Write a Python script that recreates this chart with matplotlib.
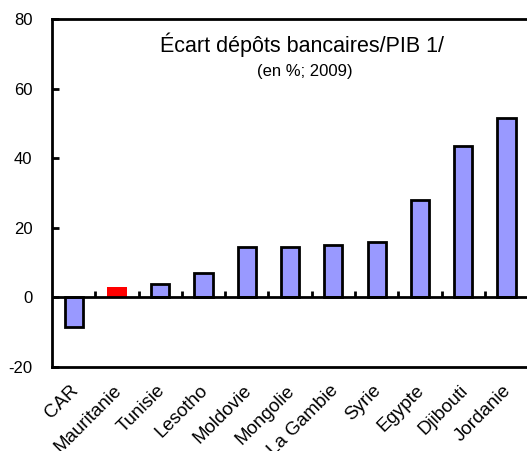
import matplotlib.pyplot as plt
import matplotlib.transforms as mtransforms
import numpy as np

plt.rcParams['font.family'] = ['Liberation Sans', 'DejaVu Sans']
plt.rcParams['axes.unicode_minus'] = False

countries = ['CAR', 'Mauritanie', 'Tunisie', 'Lesotho', 'Moldovie', 'Mongolie',
             'La Gambie', 'Syrie', 'Egypte', 'Djibouti', 'Jordanie']
values = [-8.5, 3.0, 4.0, 7.0, 14.5, 14.5, 15.0, 16.0, 28.0, 43.5, 51.5]
highlight = 'Mauritanie'

fig = plt.figure(figsize=(5.27, 4.51), dpi=100)
ax = fig.add_axes([0.0987, 0.186, 0.905, 0.772])

x = np.arange(len(countries))
for xi, name, v in zip(x, countries, values):
    if name == highlight:
        ax.bar(xi, v, width=0.48, color='#FF0000', edgecolor='none', zorder=3)
    else:
        ax.bar(xi, v, width=0.42, color='#9999FF', edgecolor='black',
               linewidth=2, zorder=3)

ax.set_xlim(-0.5, 10.52)
ax.set_ylim(-20, 80)
ax.set_yticks([-20, 0, 20, 40, 60, 80])
ax.tick_params(axis='y', direction='in', length=5, width=2, labelsize=12, pad=14)

# zero line with category separators
ax.axhline(0, color='black', linewidth=2, zorder=4)
for b in np.arange(0.5, len(countries) - 0.5, 1):
    ax.plot([b, b], [0, 1.8], color='black', linewidth=2, zorder=4,
            solid_capstyle='butt')

ax.set_xticks(x)
ax.set_xticklabels(countries, rotation=45, ha='right', rotation_mode='anchor',
                   fontsize=13.5)
ax.tick_params(axis='x', length=0, pad=8)
shift = mtransforms.ScaledTranslation(-4 / 100, -4 / 100, fig.dpi_scale_trans)
for lab in ax.get_xticklabels():
    lab.set_transform(lab.get_transform() + shift)

for s in ['left', 'top', 'bottom']:
    ax.spines[s].set_linewidth(2)
ax.spines['right'].set_visible(False)

ax.text(0.525, 0.925, 'Écart dépôts bancaires/PIB 1/', transform=ax.transAxes,
        ha='center', va='center', fontsize=15.5)
ax.text(0.53, 0.85, '(en %; 2009)', transform=ax.transAxes,
        ha='center', va='center', fontsize=12)

fig.savefig('out.png', dpi=100)
